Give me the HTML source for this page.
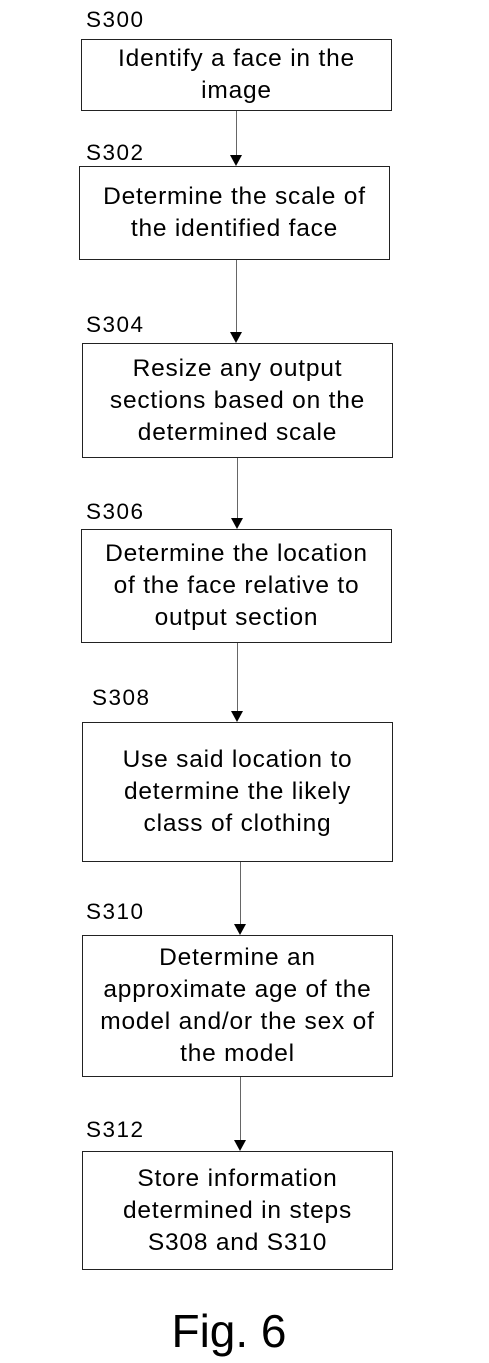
<!DOCTYPE html>
<html><head><meta charset="utf-8"><style>
body{margin:0;width:489px;height:1363px;background:#fff;position:relative;font-family:"Liberation Sans",Arial,sans-serif;color:#000;overflow:hidden}
.b{position:absolute;border:1.5px solid #222;box-sizing:border-box;display:flex;align-items:center;justify-content:center;text-align:center;font-size:24.5px;letter-spacing:0.8px;line-height:32px;white-space:nowrap}
.l{position:absolute;font-size:22.5px;letter-spacing:1.5px;line-height:24px}
.v{position:absolute;width:1px;background:#666}
.a{position:absolute;width:0;height:0;border-left:6px solid transparent;border-right:6px solid transparent;border-top:11px solid #000}
</style></head><body>
<div class="l" style="left:86px;top:8px">S300</div>
<div class="b" style="left:81px;top:39px;width:311px;height:72px">Identify a face in the<br>image</div>
<div class="v" style="left:236px;top:111px;height:45px"></div><div class="a" style="left:230px;top:155px"></div>
<div class="l" style="left:86px;top:141px">S302</div>
<div class="b" style="left:79px;top:166px;width:311px;height:94px">Determine the scale of<br>the identified face</div>
<div class="v" style="left:236px;top:260px;height:72px"></div><div class="a" style="left:230px;top:332px"></div>
<div class="l" style="left:86px;top:313px">S304</div>
<div class="b" style="left:82px;top:343px;width:311px;height:115px">Resize any output<br>sections based on the<br>determined scale</div>
<div class="v" style="left:237px;top:458px;height:60px"></div><div class="a" style="left:231px;top:518px"></div>
<div class="l" style="left:86px;top:500px">S306</div>
<div class="b" style="left:81px;top:529px;width:311px;height:114px">Determine the location<br>of the face relative to<br>output section</div>
<div class="v" style="left:237px;top:643px;height:68px"></div><div class="a" style="left:231px;top:711px"></div>
<div class="l" style="left:92px;top:686px">S308</div>
<div class="b" style="left:82px;top:722px;width:311px;height:140px">Use said location to<br>determine the likely<br>class of clothing</div>
<div class="v" style="left:240px;top:862px;height:62px"></div><div class="a" style="left:234px;top:924px"></div>
<div class="l" style="left:86px;top:900px">S310</div>
<div class="b" style="left:82px;top:935px;width:311px;height:142px">Determine an<br>approximate age of the<br>model and/or the sex of<br>the model</div>
<div class="v" style="left:240px;top:1077px;height:63px"></div><div class="a" style="left:234px;top:1140px"></div>
<div class="l" style="left:86px;top:1118px">S312</div>
<div class="b" style="left:82px;top:1151px;width:311px;height:119px">Store information<br>determined in steps<br>S308 and S310</div>
<div style="position:absolute;left:129px;width:200px;top:1303px;text-align:center;font-size:46px;line-height:56px">Fig. 6</div>
</body></html>
